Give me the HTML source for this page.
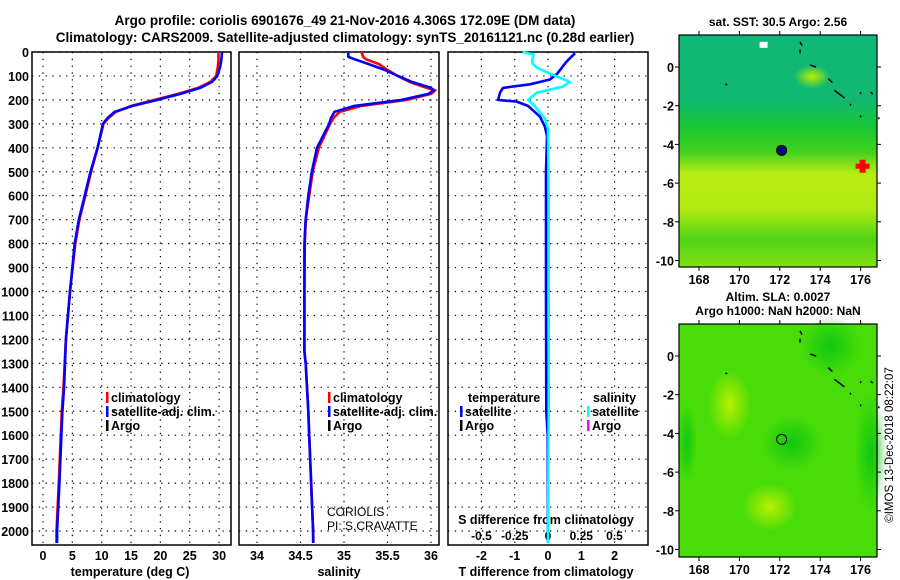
<!DOCTYPE html>
<html><head><meta charset="utf-8"><style>
html,body{margin:0;padding:0;background:#fff;}
svg{display:block;font-family:"Liberation Sans",sans-serif;font-weight:bold;}
</style></head><body>
<svg id="fig" width="900" height="580" viewBox="0 0 900 580" xmlns="http://www.w3.org/2000/svg">
<defs>
<linearGradient id="sstg" x1="0" y1="0" x2="0" y2="1">
<stop offset="0" stop-color="#10b878"/><stop offset="0.28" stop-color="#10b870"/>
<stop offset="0.4" stop-color="#18c830"/><stop offset="0.5" stop-color="#40d020"/>
<stop offset="0.6" stop-color="#b8ec10"/><stop offset="0.75" stop-color="#b0ea10"/>
<stop offset="0.88" stop-color="#50d418"/><stop offset="1" stop-color="#80e010"/>
</linearGradient>
<radialGradient id="blobL"><stop offset="0" stop-color="#b8f000"/><stop offset="1" stop-color="#b8f000" stop-opacity="0"/></radialGradient>
<radialGradient id="blobD"><stop offset="0" stop-color="#10c810"/><stop offset="1" stop-color="#10c810" stop-opacity="0"/></radialGradient>
</defs>
<g font-size="13.5" text-anchor="middle">
<text x="345" y="25">Argo profile: coriolis 6901676_49 21-Nov-2016 4.306S 172.09E (DM data)</text>
<text x="345" y="42">Climatology: CARS2009. Satellite-adjusted climatology: synTS_20161121.nc (0.28d earlier)</text>
</g>
<g id="panels"></g>
<g id="maps"></g>
<text transform="translate(893,445) rotate(-90)" text-anchor="middle" font-size="11.5" font-weight="normal">©IMOS 13-Dec-2018 08:22:07</text>
</svg>
<script>
// ---------- data ----------
const tDepth = [0,30,60,100,125,150,175,200,225,250,275,300,400,500,600,700,800,1000,1200,1400,1500,1800,2000,2050];
const tClim  = [29.9,29.9,29.8,29.5,28.5,26.4,23.0,19.0,15.0,12.4,11.2,10.3,9.3,8.2,7.2,6.2,5.5,4.6,3.9,3.5,3.2,2.7,2.3,2.3];
const tSat   = [30.5,30.4,30.2,29.7,28.8,26.8,23.4,19.5,15.3,12.2,11.0,10.2,9.3,8.1,7.1,6.1,5.4,4.6,3.9,3.6,3.3,2.8,2.4,2.4];
const sDepth = [0,20,30,50,75,100,125,150,160,175,200,225,250,275,300,400,500,600,700,800,1000,1250,1300,1400,1500,1600,2000,2050];
const sClim  = [35.2,35.22,35.25,35.4,35.5,35.62,35.75,35.95,36.05,36.0,35.72,35.2,34.95,34.88,34.84,34.71,34.64,34.6,34.56,34.55,34.545,34.545,34.56,34.575,34.59,34.6,34.645,34.65];
const sSat   = [35.05,35.05,35.12,35.28,35.47,35.62,35.78,36.0,36.03,35.97,35.66,35.12,34.89,34.85,34.83,34.69,34.63,34.59,34.56,34.545,34.545,34.545,34.56,34.575,34.59,34.6,34.645,34.645];
const dDepth = [5,40,90,115,135,150,170,200,207,225,270,310,350,500,1000,1500,1600,2050];
const dT     = [0.81,0.56,0.28,0.06,-0.54,-1.35,-1.44,-1.5,-0.94,-0.6,-0.24,-0.1,-0.03,-0.06,-0.06,-0.05,-0.01,0];
const dsDepth= [0,10,45,65,90,125,145,170,200,225,280,320,600,1000,1500,2050];
const dS     = [-0.19,-0.11,-0.12,-0.085,0.015,0.165,0.11,-0.085,-0.15,-0.1,-0.02,0,0.005,0.005,0.005,0.0];
const depthTicks = [0,100,200,300,400,500,600,700,800,900,1000,1100,1200,1300,1400,1500,1600,1700,1800,1900,2000];
const tTicks = [0,5,10,15,20,25,30];
const sTicks = [34,34.5,35,35.5,36];
const sTickLabels = ["34","34.5","35","35.5","36"];
const dTTicks = [-2,-1,0,1,2];
const dSTicks = [-0.5,-0.25,0,0.25,0.5];
const dSTickLabels = ["-0.5","-0.25","0","0.25","0.5"];
const lonTicks = [168,170,172,174,176];
const latTicks = [0,-2,-4,-6,-8,-10];
const argoLon = [172.09];
const argoLat = [-4.306];

// ---------- scales ----------
const NS="http://www.w3.org/2000/svg";
const yD = d => 52 + d*0.2395;
const xT = t => 43 + t*5.87;
const xS = s => 257 + (s-34)*87;
const xdT = v => 548 + v*33.3;
const xdS = v => 548 + v*133;
function el(tag, attrs, parent){const e=document.createElementNS(NS,tag);for(const k in attrs)e.setAttribute(k,attrs[k]);parent.appendChild(e);return e;}
const P = document.getElementById('panels');

const panels=[{x0:32,x1:231,name:'temperature-panel'},{x0:239,x1:439,name:'salinity-panel'},{x0:448,x1:648,name:'difference-panel'}];
const plotBottom=545, plotTop=52;
panels.forEach((p,i)=>{
  const g=el('g',{},P);
  
  
  depthTicks.forEach(d=>{
    const l=el('line',{x1:p.x0,x2:p.x1,y1:yD(d),y2:yD(d),stroke:'#000','stroke-width':1.2,'stroke-dasharray':'1.3,5.5'},g);
    
    
  });
  let xs = i===0? tTicks.map(xT) : i===1? sTicks.map(xS) : dTTicks.map(xdT);
  xs.forEach(x=>{
    const l=el('line',{x1:x,x2:x,y1:plotTop,y2:plotBottom,stroke:'#000','stroke-width':1.2,'stroke-dasharray':'1.3,5.5'},g);
    
    
  });
  const r=el('rect',{x:p.x0,y:plotTop,width:p.x1-p.x0,height:plotBottom-plotTop,fill:'none',stroke:'#000','stroke-width':1.5},g);
  
  
});
depthTicks.forEach(d=>{
  const t=el('text',{x:29,y:yD(d)+5,'text-anchor':'end','font-size':12.5},P);
  t.textContent=d;
  
  
});
function xlabels(ticks,labels,fx,y,size){
  ticks.forEach((v,k)=>{
    const t=el('text',{x:fx(v),y:y,'text-anchor':'middle','font-size':size},P);
    t.textContent=labels[k];
    
    
  });
}
xlabels(tTicks,tTicks.map(String),xT,560,12.5);
xlabels(sTicks,sTickLabels,xS,560,12.5);
xlabels(dTTicks,dTTicks.map(String),xdT,560,12.5);
xlabels(dSTicks,dSTickLabels,xdS,540,12);
function label(x,y,txt,name,size,anchor,weight){
  const t=el('text',{x:x,y:y,'text-anchor':anchor||'middle','font-size':size||12.5},P);
  if(weight)t.setAttribute('font-weight',weight);
  t.textContent=txt;
  
  
  return t;
}
label(130,576,'temperature (deg C)','x-axis-title-temperature');
label(339,576,'salinity','x-axis-title-salinity');
label(546,576,'T difference from climatology','x-axis-title-t-diff');
label(546,524,'S difference from climatology','x-axis-title-s-diff');
label(327,516,'CORIOLIS','data-centre-label',12,'start','normal');
label(327,530,'PI: S.CRAVATTE','pi-label',12,'start','normal');

function line(depths,vals,fx,color,name,w){
  const pts=depths.map((d,k)=>fx(vals[k]).toFixed(1)+','+yD(d).toFixed(1)).join(' ');
  const pl=el('polyline',{points:pts,fill:'none',stroke:color,'stroke-width':w||2.6,'stroke-linejoin':'round'},P);
  
  
}
line(tDepth,tClim,xT,'#ff0000','temperature-climatology-line');
line(tDepth,tSat,xT,'#0000ff','temperature-satellite-line');
line(sDepth,sClim,xS,'#ff0000','salinity-climatology-line');
line(sDepth,sSat,xS,'#0000ff','salinity-satellite-line');
line(dDepth,dT,xdT,'#0000ff','t-difference-satellite-line');
line(dsDepth,dS,xdS,'#00ffff','s-difference-satellite-line');

function legend(x,y,color,txt,name){
  const r=el('rect',{x:x,y:y-10,width:2.5,height:11,fill:color},P);
  
  
  label(x+5,y,txt,name,12.5,'start');
}
legend(106,402,'#ff0000','climatology','legend-entry-climatology');
legend(106,416,'#0000ff','satellite-adj. clim.','legend-entry-satellite');
legend(106,430,'#000000','Argo','legend-entry-argo');
legend(328,402,'#ff0000','climatology','legend-entry-climatology-s');
legend(328,416,'#0000ff','satellite-adj. clim.','legend-entry-satellite-s');
legend(328,430,'#000000','Argo','legend-entry-argo-s');
label(468,402,'temperature','legend-title-temperature',12.5,'start');
legend(460,416,'#0000ff','satellite','legend-entry-t-satellite');
legend(460,430,'#000000','Argo','legend-entry-t-argo');
label(593,402,'salinity','legend-title-salinity',12.5,'start');
legend(587,416,'#00ffff','satellite','legend-entry-s-satellite');
legend(587,430,'#ff00ff','Argo','legend-entry-s-argo');

// ---------- maps ----------
const M=document.getElementById('maps');
const mx0=679,mx1=877;
const lonX = lon => 700 + (lon-168)*20.2 - 1;
function drawMap(y0,y1,name,title1,title2,fillFn){
  const g=el('g',{},M);
  
  
  const latY = lat => y0 + 32 + (-lat)*19.35;
  fillFn(g,y0,y1,latY);
  [[173.0,1.3,173.1,1.1],[173.0,0.7,173.0,0.9],[173.5,0.1,173.8,0.0],[174.4,-0.6,174.6,-0.8],[174.7,-1.2,175.2,-1.6],[175.5,-1.9,175.5,-2.0],[176.0,-1.3,176.0,-1.4],[176.6,-1.4,176.5,-1.3],[176.9,-2.6,176.9,-2.7],[176.0,-2.5,176.0,-2.6],[169.3,-0.9,169.4,-0.9]].forEach(c=>{
    const l=el('line',{x1:lonX(c[0]),y1:latY(c[1]),x2:lonX(c[2]),y2:latY(c[3]),stroke:'#000','stroke-width':1.5},g);
    
    
  });
  const r=el('rect',{x:mx0,y:y0,width:mx1-mx0,height:y1-y0,fill:'none',stroke:'#000','stroke-width':1.2},g);
  
  
  lonTicks.forEach(lon=>{
    const x=lonX(lon);
    el('line',{x1:x,x2:x,y1:y1,y2:y1+4,stroke:'#000'},g);
    el('line',{x1:x,x2:x,y1:y0,y2:y0-4,stroke:'#000'},g);
    const t=el('text',{x:x,y:y1+17,'text-anchor':'middle','font-size':12.5},g);
    t.textContent=lon;
    
    
  });
  latTicks.forEach(lat=>{
    const y=latY(lat);
    el('line',{x1:mx1,x2:mx1+4,y1:y,y2:y,stroke:'#000'},g);
    el('line',{x1:mx0,x2:mx0-4,y1:y,y2:y,stroke:'#000'},g);
    const t=el('text',{x:674,y:y+5,'text-anchor':'end','font-size':12.5},g);
    t.textContent=lat;
    
    
  });
  const t1=el('text',{x:778,y:title2? y0-23 : y0-9,'text-anchor':'middle','font-size':12},g);
  t1.textContent=title1;
  
  
  if(title2){
    const t2=el('text',{x:778,y:y0-9,'text-anchor':'middle','font-size':12},g);
    t2.textContent=title2;
    
    
  }
  return latY;
}
const latY1 = drawMap(35,267,'sst-map','sat. SST: 30.5 Argo: 2.56',null,(g,y0,y1,latY)=>{
  const b=el('rect',{x:mx0,y:y0,width:mx1-mx0,height:y1-y0,fill:'url(#sstg)'},g);
  
  
  el('ellipse',{cx:lonX(173.6),cy:latY(-0.5),rx:18,ry:12,fill:'url(#blobL)'},g);
  el('rect',{x:lonX(171),y:latY(1.3),width:8,height:6,fill:'#fff'},g);
});
argoLon.forEach((lon,k)=>{
  const c=el('circle',{cx:lonX(lon),cy:latY1(argoLat[k]),r:5,fill:'#001080',stroke:'#000','stroke-width':1},M);
  
  
});
const hs=el('path',{d:'M'+(lonX(176.1)-3)+' '+(latY1(-5.0)-4)+'h6v4h4v5h-4v4h-6v-4h-4v-5h4z',fill:'#ff0000'},M);


const latY2 = drawMap(324,557,'sla-map','Altim. SLA: 0.0027','Argo h1000: NaN h2000: NaN',(g,y0,y1,latY)=>{
  const b=el('rect',{x:mx0,y:y0,width:mx1-mx0,height:y1-y0,fill:'#48dc08'},g);
  
  
  el('ellipse',{cx:lonX(169.5),cy:latY(-2.5),rx:22,ry:35,fill:'url(#blobL)'},g);
  el('ellipse',{cx:lonX(171.5),cy:latY(-7.8),rx:28,ry:24,fill:'url(#blobL)'},g);
  el('ellipse',{cx:lonX(172.6),cy:latY(-4.5),rx:30,ry:28,fill:'url(#blobD)'},g);
  el('ellipse',{cx:lonX(176.5),cy:latY(-5),rx:16,ry:60,fill:'url(#blobD)'},g);
  el('ellipse',{cx:lonX(167.4),cy:latY(-4.5),rx:10,ry:40,fill:'url(#blobD)'},g);
  el('ellipse',{cx:lonX(174.5),cy:latY(0.5),rx:30,ry:30,fill:'url(#blobD)'},g);
});
argoLon.forEach((lon,k)=>{
  const c=el('circle',{cx:lonX(lon),cy:latY2(argoLat[k]),r:5,fill:'none',stroke:'#000','stroke-width':1},M);
  
  
});
</script>
</body></html>
